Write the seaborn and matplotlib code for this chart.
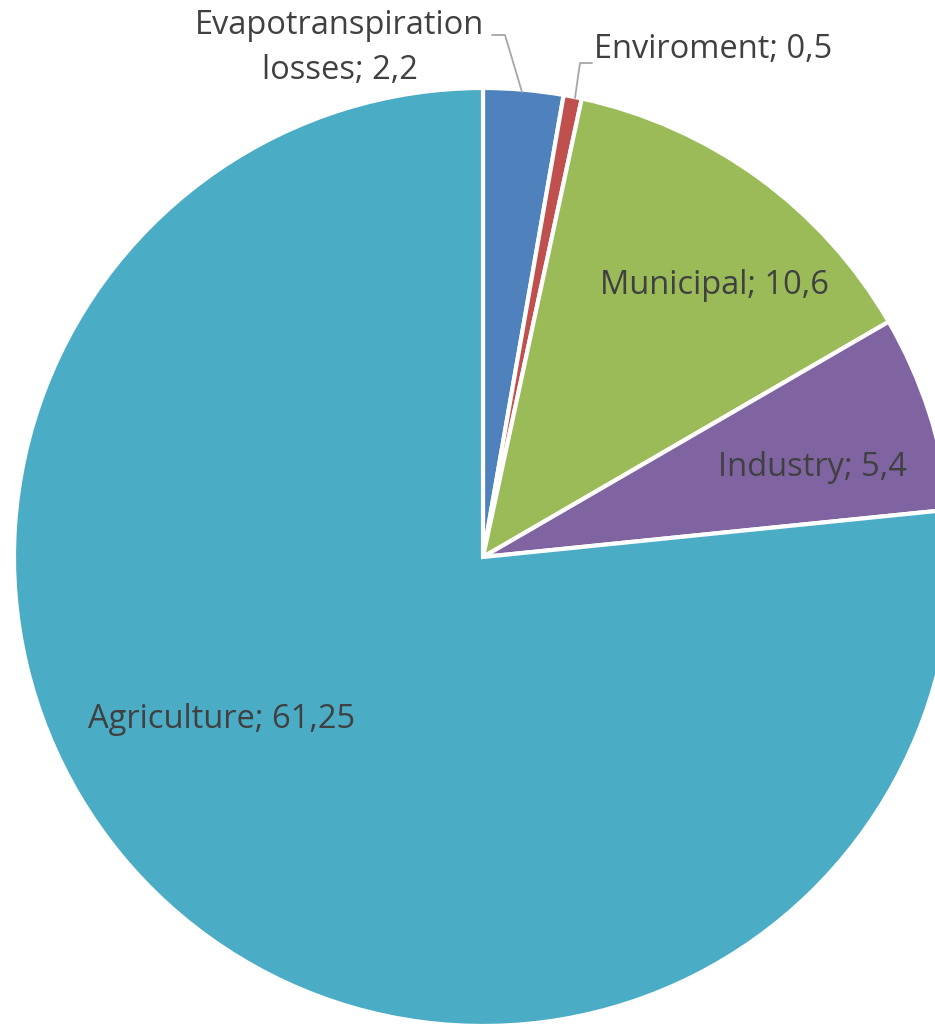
import matplotlib
matplotlib.use("Agg")
import matplotlib.pyplot as plt
import seaborn as sns
import numpy as np

sns.set_theme(style="white")
plt.rcParams['font.family'] = ['Open Sans', 'DejaVu Sans']

categories = ["Evapotranspiration\nlosses", "Enviroment", "Municipal", "Industry", "Agriculture"]
values = [2.2, 0.5, 10.6, 5.4, 61.25]
value_labels = ["2,2", "0,5", "10,6", "5,4", "61,25"]
colors = ["#4F81BD", "#C0504D", "#9BBB59", "#8064A2", "#4BACC6"]

W, H = 935, 1024
cx, cy, R = 483, 557, 469

def px(x, y):
    return (x - cx) / R, (cy - y) / R

fig = plt.figure(figsize=(W / 100, H / 100), dpi=100)
ax = fig.add_axes([0, 0, 1, 1])
ax.pie(values, colors=colors, startangle=90, counterclock=False, radius=1,
       wedgeprops=dict(edgecolor="white", linewidth=3))
ax.set_xlim(-cx / R, (W - cx) / R)
ax.set_ylim(-(H - cy) / R, cy / R)
ax.set_aspect("auto")
ax.axis("off")

txt = dict(color="#404040", fontsize=23.5, ha="center", va="center")
# label placements (pixel positions)
spots = [(340, 48), (713, 50), (715, 286), (813, 468), (222, 720)]
for name, lab, (x, y) in zip(categories, value_labels, spots):
    ax.text(*px(x, y), f"{name}; {lab}", linespacing=1.45, **txt)

# leader lines for the two thin slices
lc = dict(color="#A6A6A6", lw=1.3)
ev = [px(492, 35), px(505, 35), px(522, 92)]
ax.plot([p[0] for p in ev], [p[1] for p in ev], **lc)
en = [px(592, 63), px(580, 63), px(575, 98)]
ax.plot([p[0] for p in en], [p[1] for p in en], **lc)

fig.savefig("out.png", dpi=100)
